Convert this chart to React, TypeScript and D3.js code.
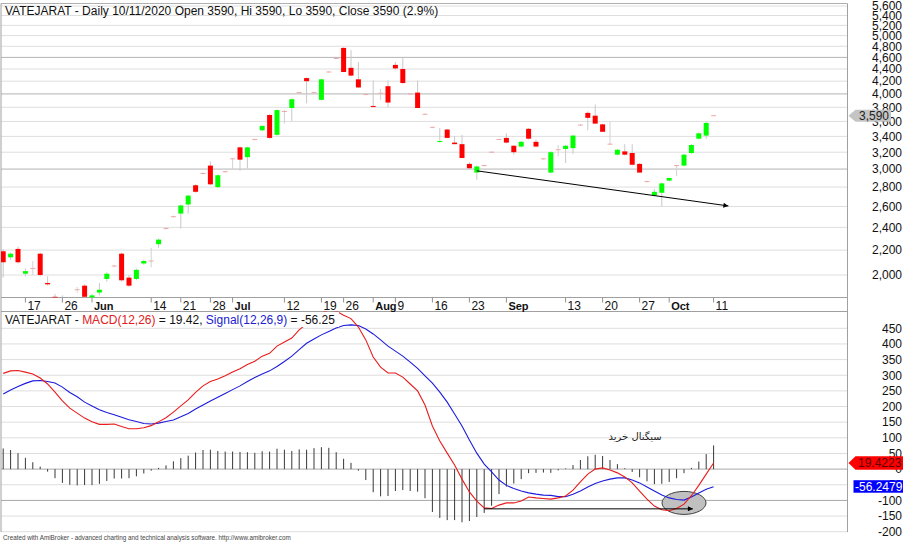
import * as d3 from 'd3';

// ---- data ----
const TICKER = 'VATEJARAT';
const LAST_DATE = '10/11/2020';
const LAST_BAR = { open: 3590, high: 3590, low: 3590, close: 3590, change: 2.9 };

const OPEN = [
  2190, 2140, 2210, 2010, 2050, 2170, 1940, 1840, 1830, 1820,
  1890, 1920, 1820, 1870, 1970, 2070, 2170, 1980, 1970, 2090,
  2110, 2250, 2390, 2500, 2530, 2620, 2820, 2950, 3040, 2800,
  2970, 3120, 3260, 3140, 3360, 3480, 3690, 3420, 3740, 3790,
  4020, 4250, 4020, 3910, 4350, 4580, 4770, 4420, 4230, 3990,
  3820, 4010, 4120, 4470, 4400, 4000, 4020, 3700, 3520, 3330,
  3490, 3320, 3300, 3060, 2960, 3040, 3200, 3360, 3380, 3280,
  3270, 3500, 3330, 3120, 2960, 3230, 3240, 3250, 3550, 3720,
  3680, 3560, 3300, 3170, 3210, 3190, 3060, 2860, 2710, 2740,
  2870, 3040, 3040, 3190, 3370, 3410, 3680,
];
const HIGH = [
  2210, 2180, 2230, 2050, 2110, 2180, 1990, 1860, 1850, 1840,
  1910, 1930, 1860, 1940, 2020, 2080, 2180, 2000, 2050, 2120,
  2220, 2300, 2390, 2510, 2620, 2720, 2830, 2960, 3090, 2940,
  2980, 3130, 3270, 3270, 3370, 3540, 3700, 3770, 3760, 3930,
  4030, 4260, 4030, 4240, 4360, 4590, 4780, 4730, 4520, 4000,
  4210, 4080, 4210, 4520, 4610, 4010, 4210, 3710, 3530, 3510,
  3500, 3400, 3420, 3080, 3040, 3050, 3210, 3370, 3440, 3290,
  3340, 3510, 3360, 3130, 3210, 3290, 3290, 3420, 3560, 3740,
  3840, 3570, 3600, 3240, 3300, 3300, 3070, 2870, 2780, 2850,
  2900, 3050, 3180, 3300, 3450, 3590, 3680,
];
const LOW = [
  1980, 2120, 2090, 1990, 2000, 1990, 1920, 1810, 1800, 1790,
  1870, 1830, 1800, 1850, 1950, 2060, 1950, 1910, 1960, 2080,
  2060, 2220, 2380, 2490, 2390, 2530, 2740, 2940, 2820, 2790,
  2960, 2990, 2980, 3010, 3350, 3470, 3370, 3410, 3570, 3600,
  4010, 3860, 4010, 3900, 4340, 4570, 4350, 4280, 4090, 3980,
  3800, 3910, 3800, 4390, 4160, 3990, 3790, 3690, 3510, 3320,
  3380, 3300, 3130, 3000, 2880, 3030, 3190, 3350, 3310, 3170,
  3260, 3360, 3260, 3110, 2950, 3150, 3070, 3180, 3540, 3480,
  3570, 3460, 3290, 3160, 3160, 3040, 2960, 2850, 2700, 2600,
  2860, 2920, 3030, 3180, 3360, 3370, 3680,
];
const CLOSE = [
  2100, 2170, 2100, 2030, 2050, 2000, 1930, 1830, 1810, 1800,
  1890, 1840, 1850, 1890, 2010, 2070, 1960, 1920, 2040, 2110,
  2110, 2290, 2390, 2500, 2610, 2710, 2750, 2950, 2830, 2930,
  2970, 3120, 3110, 3260, 3360, 3540, 3380, 3760, 3740, 3920,
  4020, 4200, 4020, 4230, 4350, 4580, 4350, 4290, 4100, 3990,
  3810, 4010, 3870, 4410, 4170, 4000, 3790, 3700, 3520, 3340,
  3380, 3300, 3130, 3010, 3030, 3040, 3200, 3360, 3320, 3200,
  3330, 3370, 3270, 3120, 3200, 3230, 3280, 3410, 3550, 3650,
  3570, 3460, 3300, 3230, 3170, 3050, 2960, 2860, 2750, 2840,
  2900, 3040, 3170, 3290, 3440, 3580, 3680,
];

const MACD = [
  306, 314, 315, 310, 304, 291, 272, 246, 218, 195,
  179, 163, 151, 143, 143, 144, 136, 129, 129, 132,
  139, 151, 164, 182, 202, 221, 245, 266, 280, 288,
  298, 310, 321, 334, 345, 361, 370, 393, 406, 419,
  445, 464, 483, 499, 508, 505, 492, 481, 454, 413,
  358, 326, 307, 307, 294, 272, 250, 205, 138, 90,
  51, 13, -32, -73, -102, -124, -126, -115, -108, -108,
  -102, -89, -92, -94, -96, -92, -86, -67, -41, -16,
  0, 4, -3, -12, -25, -44, -70, -96, -118, -130,
  -133, -126, -112, -85, -52, -16, 19.4223,
];
const SIGNAL = [
  240, 253, 264, 274, 282, 283, 280, 275, 262, 245,
  231, 214, 202, 190, 181, 174, 166, 158, 152, 146,
  144, 147, 152, 157, 167, 178, 192, 205, 218, 230,
  242, 254, 266, 280, 293, 304, 314, 328, 344, 361,
  382, 402, 416, 429, 440, 451, 459, 461, 459, 448,
  432, 413, 393, 377, 361, 342, 322, 298, 275, 246,
  214, 176, 138, 93, 51, 16, -9, -35, -52, -62,
  -70, -76, -80, -83, -84, -88, -88, -80, -70, -57,
  -46, -38, -32, -28, -28, -35, -44, -57, -70, -83,
  -92, -97, -99, -89, -76, -64, -56.2479,
];

// date labels: bar index, text, month start?
const DATE_LABELS: [number, string, boolean][] = [
  [3, '17', false], [8, '26', false], [12, 'Jun', true], [20, '14', false],
  [24, '21', false], [28, '28', false], [31, 'Jul', true], [38, '12', false],
  [43, '19', false], [46, '26', false], [50, 'Aug', true], [53, '9', false],
  [58, '16', false], [63, '23', false], [68, 'Sep', true], [76, '13', false],
  [81, '20', false], [86, '27', false], [90, 'Oct', true], [96, '11', false],
];

const PRICE_TICKS = d3.range(2000, 5601, 200);
const PRICE_DARK = [3000, 4000, 4600];
const MACD_TICKS = d3.range(-200, 451, 50);
const MACD_DARK = [0, -100];

// hand-drawn annotations (bar index / value)
const TREND_ARROW = { i0: 64, p0: 2980, i1: 98, p1: 2605 };
const MACD_ARROW = { i0: 65, i1: 93.2, v: -127 };
const SIGNAL_MARK = { i: 92, v: -108 };
const SIGNAL_TEXT = { i: 85.4, v: 103, text: 'سیگنال خرید' };

// ---- layout ----
const W = 907;
const H = 544;
const LEFT = 1;
const RIGHT = 847.5;
const PRICE_TOP = 3.5;
const PRICE_BOT = 297.5;
const MACD_TOP = 311.5;
const MACD_BOT = 532;
const FONT = '"Liberation Sans", Arial, sans-serif';
const GREEN = '#00ff00';
const RED = '#ff0000';

export default function App() {
  const n = CLOSE.length;
  const x = d3.scaleLinear().domain([0, n - 1]).range([3.2, 713.6]);
  const y = d3.scaleLog().domain([2000, 5600]).range([275, 6]);
  const ym = d3.scaleLinear().domain([-200, 450]).range([531.7, 328.3]);
  const fmt = d3.format(',');

  const macdLine = d3.line<number>().x((_, i) => x(i)).y(v => ym(v));

  const lastY = y(CLOSE[n - 1]);
  const lastMacd = MACD[n - 1];
  const lastSig = SIGNAL[n - 1];

  return (
    <div style={{ position: 'fixed', left: 0, top: 0 }}>
      <svg width={W} height={H} style={{ display: 'block', background: '#fff' }} fontFamily={FONT}>
        <defs>
          <clipPath id="clip-price">
            <rect x={LEFT} y={PRICE_TOP} width={RIGHT - LEFT} height={PRICE_BOT - PRICE_TOP} />
          </clipPath>
          <clipPath id="clip-macd">
            <rect x={LEFT} y={MACD_TOP} width={RIGHT - LEFT} height={MACD_BOT - MACD_TOP} />
          </clipPath>
          <marker id="ah" viewBox="0 0 10 10" refX={10} refY={5} markerWidth={8} markerHeight={5}
            markerUnits="userSpaceOnUse" orient="auto">
            <path d="M0,0 L10,5 L0,10 z" fill="#000" />
          </marker>
        </defs>

        {/* price grid */}
        {PRICE_TICKS.map(t => (
          <line key={t} x1={LEFT} x2={RIGHT} y1={y(t)} y2={y(t)}
            stroke={PRICE_DARK.includes(t) ? '#b4b4b4' : '#dedede'} strokeWidth={1} />
        ))}
        {/* macd grid */}
        {MACD_TICKS.map(t => (
          <line key={t} x1={LEFT} x2={RIGHT} y1={ym(t)} y2={ym(t)}
            stroke={MACD_DARK.includes(t) ? '#a8a8a8' : '#dedede'} strokeWidth={1} />
        ))}

        {/* frame */}
        <line x1={LEFT} x2={RIGHT} y1={PRICE_TOP} y2={PRICE_TOP} stroke="#b0b0b0" />
        <line x1={LEFT} x2={RIGHT} y1={PRICE_BOT} y2={PRICE_BOT} stroke="#a0a0a0" />
        <line x1={LEFT} x2={RIGHT} y1={MACD_TOP} y2={MACD_TOP} stroke="#a0a0a0" />
        <line x1={LEFT} x2={LEFT} y1={PRICE_TOP} y2={MACD_BOT} stroke="#a0a0a0" />
        <line x1={RIGHT} x2={RIGHT} y1={PRICE_TOP} y2={MACD_BOT} stroke="#a0a0a0" />

        {/* candles */}
        <g clipPath="url(#clip-price)">
          {CLOSE.map((c, i) => {
            const o = OPEN[i];
            const cx = x(i);
            if (o === c) {
              return (
                <g key={i}>
                  {HIGH[i] !== LOW[i] && (
                    <line x1={cx} x2={cx} y1={y(HIGH[i])} y2={y(LOW[i])} stroke="#d2d2d2" />
                  )}
                  <line x1={cx - 2.5} x2={cx + 2.5} y1={y(c)} y2={y(c)} stroke="#efa8a8" />
                </g>
              );
            }
            const top = y(Math.max(o, c));
            const bot = y(Math.min(o, c));
            return (
              <g key={i}>
                <line x1={cx} x2={cx} y1={y(HIGH[i])} y2={y(LOW[i])} stroke="#c8c8c8" />
                <rect x={cx - 2.5} y={top} width={5} height={Math.max(1, bot - top)}
                  fill={c > o ? GREEN : RED} />
              </g>
            );
          })}
          <line x1={x(TREND_ARROW.i0)} y1={y(TREND_ARROW.p0)} x2={x(TREND_ARROW.i1)} y2={y(TREND_ARROW.p1)}
            stroke="#000" strokeWidth={1} markerEnd="url(#ah)" />
        </g>

        {/* price axis labels */}
        {PRICE_TICKS.map(t => (
          <text key={t} x={902} y={y(t) + 4.3} textAnchor="end" fontSize={12} fill="#111">{fmt(t)}</text>
        ))}
        <path d={`M${RIGHT + 1},${lastY} L${RIGHT + 8},${lastY - 6} L891,${lastY - 6} L891,${lastY + 6} L${RIGHT + 8},${lastY + 6} Z`}
          fill="#c4c4c4" />
        <text x={859} y={lastY + 4.3} fontSize={12} fill="#222">{fmt(LAST_BAR.close)}</text>

        {/* date axis */}
        {DATE_LABELS.map(([i, t, bold]) => (
          <g key={i}>
            <line x1={x(i)} x2={x(i)} y1={PRICE_BOT} y2={PRICE_BOT + 5} stroke="#909090" />
            <text x={x(i) + 2} y={309.5} fontSize={bold ? 11 : 12} fontWeight={bold ? 'bold' : 'normal'}
              fill="#111">{t}</text>
          </g>
        ))}

        {/* price title */}
        <text x={5} y={14.5} fontSize={12} fill="#111">
          {`${TICKER} - Daily ${LAST_DATE} Open ${LAST_BAR.open}, Hi ${LAST_BAR.high}, Lo ${LAST_BAR.low}, Close ${LAST_BAR.close} (${LAST_BAR.change}%)`}
        </text>

        {/* MACD pane */}
        <g clipPath="url(#clip-macd)">
          {MACD.map((m, i) => (
            <line key={i} x1={x(i)} x2={x(i)} y1={ym(0)} y2={ym(m - SIGNAL[i])} stroke="#383838" strokeWidth={1} />
          ))}
          <ellipse cx={x(SIGNAL_MARK.i)} cy={ym(SIGNAL_MARK.v)} rx={22} ry={11.5}
            fill="#c0c0c0" stroke="#404040" strokeWidth={1} />
          <path d={macdLine(SIGNAL) ?? ''} fill="none" stroke="#1c1cdc" strokeWidth={1.1} />
          <path d={macdLine(MACD) ?? ''} fill="none" stroke="#e81c1c" strokeWidth={1.1} />
          <line x1={x(MACD_ARROW.i0)} x2={x(MACD_ARROW.i1)} y1={ym(MACD_ARROW.v)} y2={ym(MACD_ARROW.v)}
            stroke="#000" strokeWidth={1} markerEnd="url(#ah)" />
          <text x={x(SIGNAL_TEXT.i)} y={ym(SIGNAL_TEXT.v) + 3.5} textAnchor="middle" fontSize={10}
            fontFamily='"DejaVu Sans", sans-serif' fill="#222">{SIGNAL_TEXT.text}</text>
        </g>

        {/* MACD title with white backing */}
        <rect x={3} y={MACD_TOP + 0.5} width={336} height={15} fill="#fff" />
        <text x={5} y={323.5} fontSize={12} fill="#111">
          {`${TICKER} - `}
          <tspan fill="#e02020">MACD(12,26)</tspan>
          {` = ${lastMacd.toFixed(2)}, `}
          <tspan fill="#2020d0">Signal(12,26,9)</tspan>
          {` = ${lastSig.toFixed(2)}`}
        </text>

        {/* MACD axis labels */}
        {MACD_TICKS.map(t => (
          <text key={t} x={902} y={ym(t) + 4.3} textAnchor="end" fontSize={12} fill="#111">{t}</text>
        ))}
        <path d={`M${RIGHT + 1},${ym(lastMacd)} L${RIGHT + 8},${ym(lastMacd) - 6.7} L903,${ym(lastMacd) - 6.7} L903,${ym(lastMacd) + 6.7} L${RIGHT + 8},${ym(lastMacd) + 6.7} Z`}
          fill="#ff0000" />
        <text x={858} y={ym(lastMacd) + 4.3} fontSize={12} fill="#5a0000">{lastMacd.toFixed(4)}</text>
        <rect x={853.5} y={ym(lastSig) - 6.5} width={49.5} height={12.5} fill="#0000ff" />
        <text x={855} y={ym(lastSig) + 4.3} fontSize={12} fill="#fff">{lastSig.toFixed(4)}</text>

        {/* footer */}
        <text x={3} y={539.5} fontSize={6.3} fill="#444">
          Created with AmiBroker - advanced charting and technical analysis software. http://www.amibroker.com
        </text>
      </svg>
    </div>
  );
}
